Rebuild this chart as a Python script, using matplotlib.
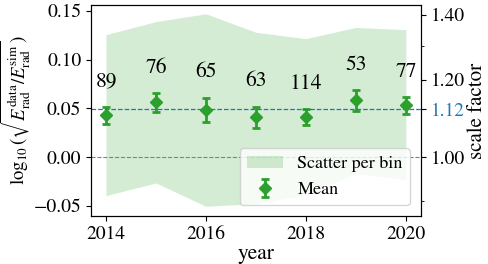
import numpy as np
import matplotlib
matplotlib.use("Agg")
import matplotlib.pyplot as plt

years = [2014, 2015, 2016, 2017, 2018, 2019, 2020]
mean = [0.0427, 0.0560, 0.0486, 0.0407, 0.0410, 0.0580, 0.0530]
err = [0.0090, 0.0098, 0.0124, 0.0110, 0.0080, 0.0106, 0.0089]
scatter_hi = [0.1256, 0.1390, 0.1470, 0.1280, 0.1215, 0.1330, 0.1307]
scatter_lo = [-0.0397, -0.0267, -0.0507, -0.0480, -0.0390, -0.0170, -0.0233]
counts = [89, 76, 65, 63, 114, 53, 77]
scale_ref = 1.12
right_major = [1.00, 1.12, 1.20, 1.40]
right_minor = [0.90, 1.30]

plt.rcParams['font.family'] = ['STIXGeneral', 'DejaVu Serif']
plt.rcParams['mathtext.fontset'] = 'stix'

fig = plt.figure(figsize=(4.88, 2.64), dpi=100)
ax = fig.add_axes([0.1865, 0.182, 0.676, 0.799])

ax.fill_between(years, scatter_lo, scatter_hi, color='tab:green', alpha=0.2,
                linewidth=0, label='Scatter per bin')
ax.errorbar(years, mean, yerr=err, fmt='D', color='tab:green', ms=6,
            elinewidth=2, capsize=3, capthick=2, label='Mean')
ax.axhline(0, color='grey', ls='--', lw=0.8)
ax.axhline(np.log10(scale_ref), color='tab:blue', ls='--', lw=0.9)

for x, m, e, c in zip(years, mean, err, counts):
    ax.text(x, m + e + 0.0155, str(c), ha='center', va='bottom', fontsize=15.5)

ax.set_xlim(2013.7, 2020.3)
ax.set_ylim(-0.0606, 0.156)
ax.set_xticks([2014, 2016, 2018, 2020])
ax.set_yticks([-0.05, 0.0, 0.05, 0.10, 0.15])
ax.tick_params(labelsize=14)
ax.set_xlabel('year', fontsize=15.5, labelpad=1)
ax.set_ylabel(r'$\log_{10}(\sqrt{E_{\rm rad}^{\rm data}/E_{\rm rad}^{\rm sim}})$',
              fontsize=13.5)
ax.yaxis.set_label_coords(-0.172, 0.5)
ax.legend(loc='lower right', fontsize=13, borderaxespad=0.6)

ax2 = ax.twinx()
ax2.set_ylim(ax.get_ylim())
ax2.set_yticks(np.log10(right_major))
ax2.set_yticklabels(['%.2f' % v for v in right_major])
ax2.set_yticks(np.log10(right_minor), minor=True)
ax2.tick_params(labelsize=14)
for lab, v in zip(ax2.get_yticklabels(), right_major):
    if abs(v - scale_ref) < 1e-9:
        lab.set_color('tab:blue')
ax2.set_ylabel('scale factor', fontsize=15, labelpad=2)

fig.savefig('out.png', dpi=100)
